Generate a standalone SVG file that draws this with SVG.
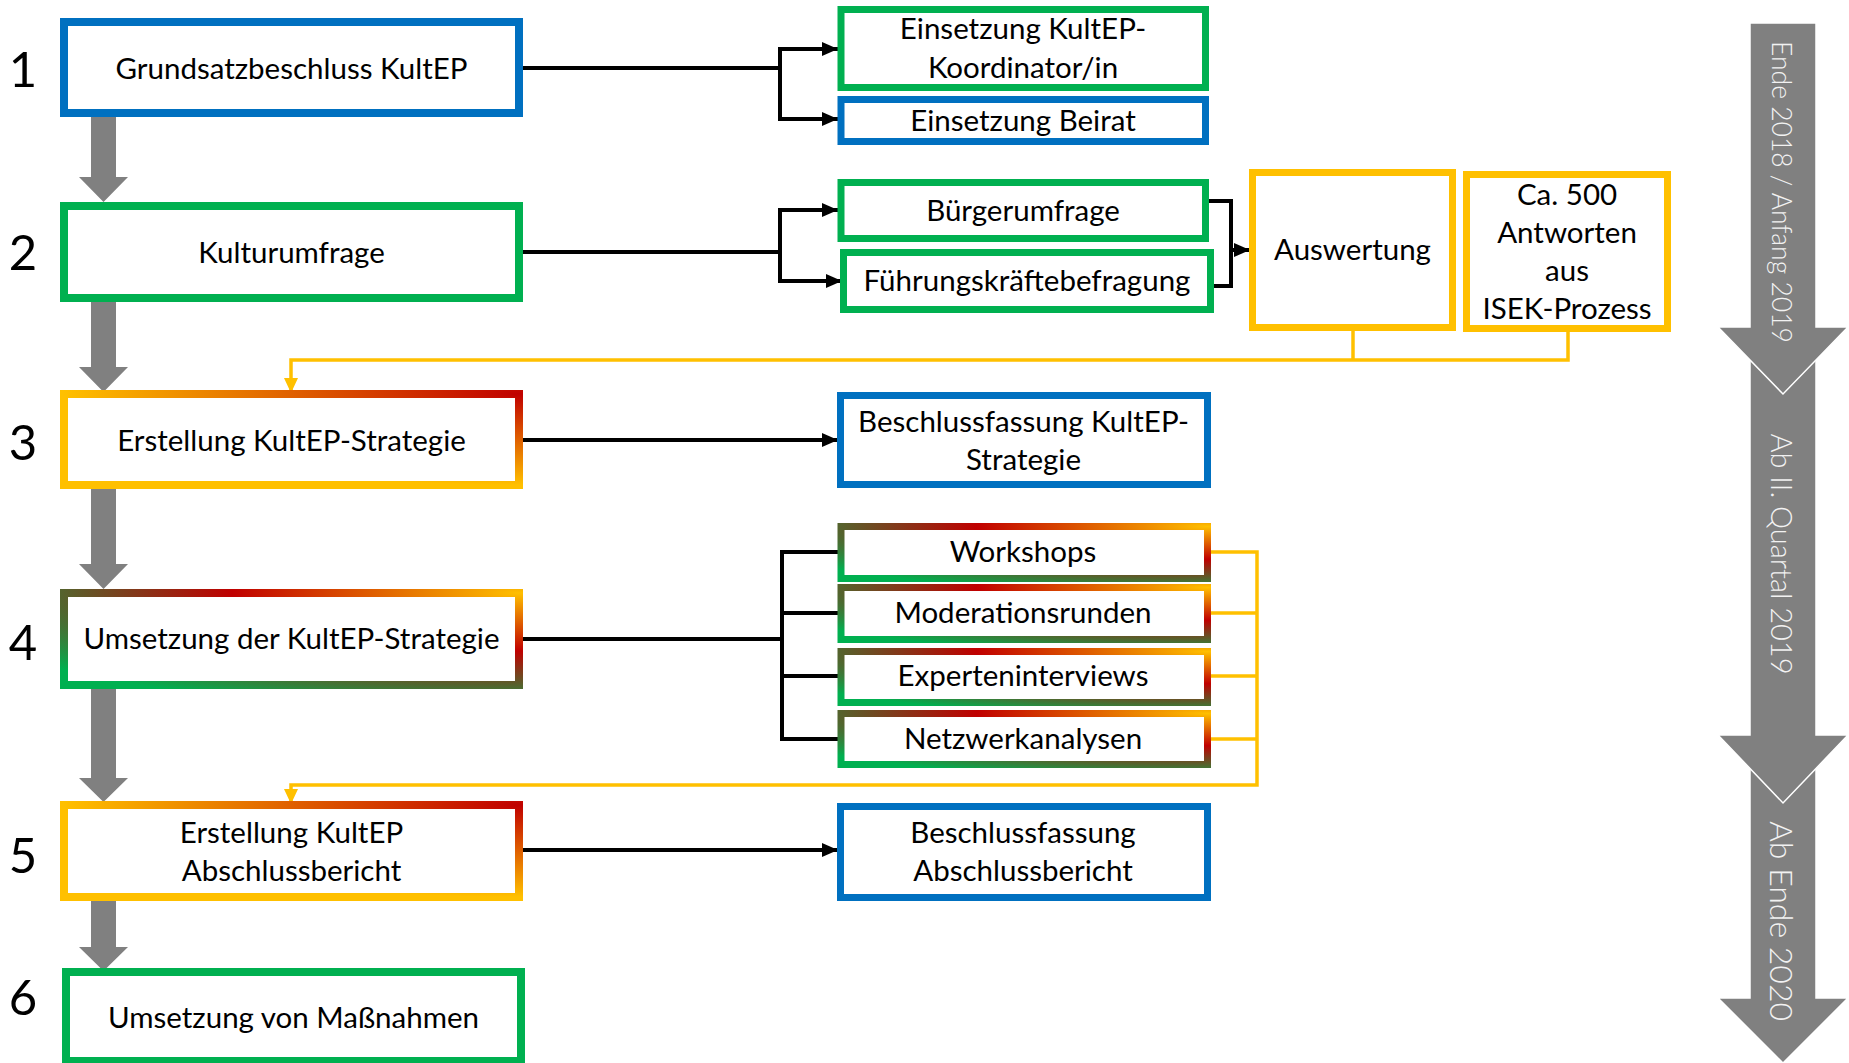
<svg xmlns="http://www.w3.org/2000/svg" width="1849" height="1063" viewBox="0 0 1849 1063">
<style>
.t{font-family:Lato,"Liberation Sans",sans-serif;font-size:29.5px;fill:#000;text-anchor:middle}
.num{font-family:Lato,"Liberation Sans",sans-serif;font-size:49px;fill:#000;text-anchor:middle}
.box{fill:#fff;stroke-width:7}
.big{stroke-width:8}
.blue{stroke:#0070C0}
.green{stroke:#00B050}
.yel{stroke:#FFC000}
.gyr{stroke:url(#gYR)}
.ggry{stroke:url(#gGRY)}
.conn{fill:none;stroke:#000;stroke-width:4}
.yconn{fill:none;stroke:#FFC000;stroke-width:3.5}
.garr{fill:#808080}
.tl{fill:#808080;stroke:#fff;stroke-width:1.5}
.tlt{font-family:Lato,"Liberation Sans",sans-serif;font-weight:300;fill:#F2F2F2;text-anchor:middle}
</style>
<defs>
<radialGradient id="gYR" cx="1" cy="0" r="1" fx="1" fy="0">
<stop offset="0" stop-color="#C00000"/>
<stop offset="1" stop-color="#FFC000"/>
</radialGradient>
<radialGradient id="gGRY" cx="1" cy="0" r="1.4" fx="1" fy="0">
<stop offset="0" stop-color="#FFC000"/>
<stop offset="0.45" stop-color="#C00000"/>
<stop offset="0.93" stop-color="#00B050"/>
<stop offset="1" stop-color="#00B050"/>
</radialGradient>
<marker id="ah" viewBox="0 0 16 14" refX="16" refY="7" markerWidth="16" markerHeight="14" markerUnits="userSpaceOnUse" orient="auto-start-reverse">
<path d="M0,0 L16,7 L0,14 z" fill="#000"/>
</marker>
<marker id="yah" viewBox="0 0 15 14" refX="15" refY="7" markerWidth="15" markerHeight="14" markerUnits="userSpaceOnUse" orient="auto">
<path d="M0,0 L15,7 L0,14 z" fill="#FFC000"/>
</marker>
</defs>
<rect width="1849" height="1063" fill="#fff"/>

<g id="timeline">
<g id="t3">
<polygon class="tl" points="1750,740 1816,740 1816,998 1848,998 1783,1063 1718,998 1750,998"/>
<text class="tlt" font-size="32" transform="translate(1770,921) rotate(90)">Ab Ende 2020</text>
</g>
<g id="t2">
<polygon class="tl" points="1750,330 1816,330 1816,735 1848,735 1783,803 1718,735 1750,735"/>
<text class="tlt" font-size="29" transform="translate(1771,554) rotate(90)">Ab II. Quartal 2019</text>
</g>
<g id="t1">
<polygon class="tl" points="1750,23 1816,23 1816,327 1848,327 1783,394 1718,327 1750,327"/>
<text class="tlt" font-size="26.5" transform="translate(1772,192) rotate(90)">Ende 2018 / Anfang 2019</text>
</g>
</g>

<g id="flow-arrows">
<polygon class="garr" points="91,117 116,117 116,177 128,177 103.5,202 79,177 91,177"/>
<polygon class="garr" points="91,302 116,302 116,367 128,367 103.5,392 79,367 91,367"/>
<polygon class="garr" points="91,489 116,489 116,564 128,564 103.5,589 79,564 91,564"/>
<polygon class="garr" points="91,689 116,689 116,778 128,778 103.5,802 79,778 91,778"/>
<polygon class="garr" points="91,900 116,900 116,947 128,947 103.5,971 79,947 91,947"/>
</g>

<g id="connectors">
<path class="conn" d="M523,68 H780"/>
<path class="conn" d="M838,49 H780 V119 H838" marker-start="url(#ah)" marker-end="url(#ah)"/>
<path class="conn" d="M523,252 H780"/>
<path class="conn" d="M838,210 H780 V281 H842" marker-start="url(#ah)" marker-end="url(#ah)"/>
<path class="conn" d="M1209,201 H1231 V286 H1214"/>
<path class="conn" d="M1229,250 H1250" marker-end="url(#ah)"/>
<path class="conn" d="M523,440 H838" marker-end="url(#ah)"/>
<path class="conn" d="M523,639 H782"/>
<path class="conn" d="M838,552 H782 V739 H838"/>
<path class="conn" d="M782,613 H838"/>
<path class="conn" d="M782,676 H838"/>
<path class="conn" d="M523,850 H838" marker-end="url(#ah)"/>
<path class="yconn" d="M1353,331 V360"/>
<path class="yconn" d="M1568,332 V360 H291 V393" marker-end="url(#yah)"/>
<path class="yconn" d="M1211,552 H1257 V785 H291 V804" marker-end="url(#yah)"/>
<path class="yconn" d="M1211,613 H1257"/>
<path class="yconn" d="M1211,676 H1257"/>
<path class="yconn" d="M1211,739 H1257"/>
</g>

<g id="n1">
<text class="num" x="23" y="87">1</text>
<rect class="box big blue" x="64" y="22" width="455" height="91"/>
<text class="t" x="291.5" y="79">Grundsatzbeschluss KultEP</text>
</g>
<g id="n2">
<text class="num" x="23" y="270">2</text>
<rect class="box big green" x="64" y="206" width="455" height="92"/>
<text class="t" x="291.5" y="263">Kulturumfrage</text>
</g>
<g id="n3">
<text class="num" x="23" y="460">3</text>
<rect class="box big gyr" x="64" y="394" width="455" height="91"/>
<text class="t" x="291.5" y="451">Erstellung KultEP-Strategie</text>
</g>
<g id="n4">
<text class="num" x="23" y="660">4</text>
<rect class="box big ggry" x="64" y="593" width="455" height="92"/>
<text class="t" x="291.5" y="649">Umsetzung der KultEP-Strategie</text>
</g>
<g id="n5">
<text class="num" x="23" y="873">5</text>
<rect class="box big gyr" x="64" y="805" width="455" height="92"/>
<text class="t" x="291.5" y="842.5">Erstellung KultEP</text>
<text class="t" x="291.5" y="880.5">Abschlussbericht</text>
</g>
<g id="n6">
<text class="num" x="23" y="1015">6</text>
<rect class="box big green" x="66" y="972" width="455" height="89"/>
<text class="t" x="293.5" y="1028">Umsetzung von Maßnahmen</text>
</g>

<g id="b1a">
<rect class="box green" x="841" y="9.5" width="364.5" height="78"/>
<text class="t" x="1023" y="39">Einsetzung KultEP-</text>
<text class="t" x="1023" y="78">Koordinator/in</text>
</g>
<g id="b1b">
<rect class="box blue" x="841" y="99.5" width="364.5" height="42"/>
<text class="t" x="1023" y="130.5">Einsetzung Beirat</text>
</g>
<g id="b2a">
<rect class="box green" x="841" y="182.5" width="364.5" height="56"/>
<text class="t" x="1023" y="220.5">Bürgerumfrage</text>
</g>
<g id="b2b">
<rect class="box green" x="843.5" y="252.5" width="367" height="57"/>
<text class="t" x="1027" y="290.5">Führungskräftebefragung</text>
</g>
<g id="ausw">
<rect class="box yel" x="1252.5" y="172.5" width="200" height="155"/>
<text class="t" x="1352.5" y="260">Auswertung</text>
</g>
<g id="ca500">
<rect class="box yel" x="1466.5" y="174.5" width="201" height="154"/>
<text class="t" x="1567" y="205">Ca. 500</text>
<text class="t" x="1567" y="243">Antworten</text>
<text class="t" x="1567" y="281">aus</text>
<text class="t" x="1567" y="319">ISEK-Prozess</text>
</g>
<g id="b3">
<rect class="box blue" x="840.5" y="395.5" width="367" height="89"/>
<text class="t" x="1023.5" y="431.5">Beschlussfassung KultEP-</text>
<text class="t" x="1023.5" y="470">Strategie</text>
</g>
<g id="w1">
<rect class="box ggry" x="841" y="526.5" width="366.5" height="52"/>
<text class="t" x="1023" y="562">Workshops</text>
</g>
<g id="w2">
<rect class="box ggry" x="841" y="587.5" width="366.5" height="52"/>
<text class="t" x="1023" y="623">Moderationsrunden</text>
</g>
<g id="w3">
<rect class="box ggry" x="841" y="651.5" width="366.5" height="51"/>
<text class="t" x="1023" y="686">Experteninterviews</text>
</g>
<g id="w4">
<rect class="box ggry" x="841" y="713.5" width="366.5" height="51"/>
<text class="t" x="1023" y="749">Netzwerkanalysen</text>
</g>
<g id="b5">
<rect class="box blue" x="840.5" y="806.5" width="367" height="91"/>
<text class="t" x="1023" y="842.5">Beschlussfassung</text>
<text class="t" x="1023" y="880.5">Abschlussbericht</text>
</g>
</svg>
